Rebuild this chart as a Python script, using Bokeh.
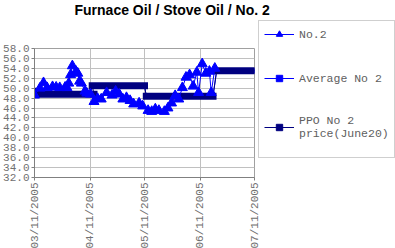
import pandas as pd
from bokeh.plotting import figure
from bokeh.models import (Range1d, FixedTicker, DatetimeTickFormatter, PrintfTickFormatter,
                          ColumnDataSource, Legend, LegendItem, Title)
from bokeh.embed import file_html
from bokeh.resources import INLINE

# ---- data ----
no2_dates = ["2005-03-11", "2005-03-14", "2005-03-16", "2005-03-18", "2005-03-21", "2005-03-23",
             "2005-03-25", "2005-03-28", "2005-03-29", "2005-03-30", "2005-03-31", "2005-04-01",
             "2005-04-03", "2005-04-04", "2005-04-05", "2005-04-06", "2005-04-08", "2005-04-09",
             "2005-04-11", "2005-04-13", "2005-04-15", "2005-04-17", "2005-04-20", "2005-04-23",
             "2005-04-25", "2005-04-27", "2005-04-29", "2005-05-01", "2005-05-03", "2005-05-05",
             "2005-05-08", "2005-05-10", "2005-05-13", "2005-05-15", "2005-05-17", "2005-05-19",
             "2005-05-22", "2005-05-24", "2005-05-26", "2005-05-28", "2005-05-30", "2005-06-01",
             "2005-06-03", "2005-06-05", "2005-06-07", "2005-06-09", "2005-06-10", "2005-06-12",
             "2005-06-14", "2005-06-16", "2005-06-17", "2005-06-19"]
no2_values = [48.6, 50.0, 51.1, 50.1, 50.3, 50.2,
              50.1, 50.2, 50.1, 51.0, 52.7, 54.5,
              53.4, 53.0, 51.4, 51.0, 49.4, 49.0,
              48.8, 47.3, 47.9, 47.8, 49.1, 48.6,
              49.4, 48.8, 47.8, 48.1, 47.5, 46.8,
              47.0, 46.4, 45.5, 45.3, 45.8, 45.5,
              45.3, 46.0, 47.0, 48.5, 47.8, 50.1,
              52.2, 52.7, 50.4, 53.2, 49.1, 54.9,
              53.0, 53.4, 49.1, 54.0]

avg_dates = ["2005-03-11", "2005-04-11", "2005-04-12", "2005-05-11", "2005-05-12", "2005-06-18", "2005-06-20", "2005-07-11"]
avg_values = [48.8, 48.8, 50.5, 50.5, 48.4, 48.4, 53.5, 53.5]

ppo_from = ["2005-03-11", "2005-03-13", "2005-04-12", "2005-05-12", "2005-06-20"]
ppo_to = ["2005-03-11", "2005-04-13", "2005-05-11", "2005-06-18", "2005-07-12"]
ppo_values = [49.4, 48.8, 50.5, 48.4, 53.5]

tick_dates = ["2005-03-11", "2005-04-11", "2005-05-11", "2005-06-11", "2005-07-11"]
y_ticks = [32, 34, 36, 38, 40, 42, 44, 46, 48, 50, 52, 54, 56, 58]

# ---- figure ----
d = lambda s: pd.to_datetime(s)
p = figure(frame_width=220, frame_height=129, x_axis_type="datetime", output_backend="svg",
           toolbar_location=None, title=None,
           x_range=Range1d(d(tick_dates[0]), d(tick_dates[-1])),
           y_range=Range1d(32, 58),
           min_border_left=33, min_border_right=142, min_border_top=47, min_border_bottom=72)
p.background_fill_color = "white"
p.border_fill_color = "white"
p.outline_line_color = "#a0a0a0"

# spacer (nearest the frame) then the real title above it
p.add_layout(Title(text=" ", text_font_size="10px", standoff=15), "above")
p.add_layout(Title(text="Furnace Oil / Stove Oil  / No. 2", text_font="Liberation Sans",
                   text_font_style="bold", text_font_size="14px", text_color="black",
                   align="left", offset=40, vertical_align="top", standoff=2), "above")

tick_ms = [d(t).timestamp() * 1000 for t in tick_dates]
p.xaxis.ticker = FixedTicker(ticks=tick_ms)
fmt = "%m/%d/%Y"
p.xaxis.formatter = DatetimeTickFormatter(days=fmt, months=fmt, years=fmt, hours=fmt,
                                          hourmin=fmt, minutes=fmt, seconds=fmt, milliseconds=fmt,
                                          microseconds=fmt, minsec=fmt)
p.xaxis.major_label_orientation = 3.14159265 / 2
p.yaxis.ticker = FixedTicker(ticks=y_ticks)
p.yaxis.formatter = PrintfTickFormatter(format="%.1f")
for ax in (p.xaxis[0], p.yaxis[0]):
    ax.axis_line_color = "#808080"
    ax.major_tick_line_color = "#808080"
    ax.major_tick_out = 3
    ax.major_tick_in = 0
    ax.minor_tick_line_color = None
    ax.major_label_text_font = "Liberation Mono"
    ax.major_label_text_font_size = "11px"
    ax.major_label_text_color = "#707070"
    ax.major_label_standoff = 2
p.xgrid.grid_line_color = "#c0c0c0"
p.ygrid.grid_line_color = "#c0c0c0"

# Average No 2
p.line([d(x) for x in avg_dates], avg_values, color="#0000ff", line_width=1)
p.scatter([d(x) for x in avg_dates], avg_values, marker="square", size=4, color="#0000ff")

# PPO
conn_x, conn_y = [], []
for i in range(len(ppo_from)):
    conn_x += [d(ppo_from[i]), d(ppo_to[i])]
    conn_y += [ppo_values[i], ppo_values[i]]
p.line(conn_x, conn_y, color="#000080", line_width=1)
p.segment(x0=[d(x) for x in ppo_from], x1=[d(x) for x in ppo_to], y0=ppo_values, y1=ppo_values,
          color="#000080", line_width=7, line_cap="square")

# No.2
p.line([d(x) for x in no2_dates], no2_values, color="#0000ff", line_width=1)
p.scatter([d(x) for x in no2_dates], no2_values, marker="triangle", size=10, color="#0000ff")

# legend proxies (off-range points so only the legend glyph shows)
def proxy():
    return ColumnDataSource(dict(x=[d(tick_dates[0])], y=[0]))
r1a = p.line("x", "y", source=proxy(), color="#0000ff", line_width=1)
r1b = p.scatter("x", "y", source=proxy(), marker="triangle", size=9, color="#0000ff")
r2a = p.line("x", "y", source=proxy(), color="#0000ff", line_width=1)
r2b = p.scatter("x", "y", source=proxy(), marker="square", size=4, color="#0000ff")
r3a = p.line("x", "y", source=proxy(), color="#000080", line_width=1)
r3b = p.scatter("x", "y", source=proxy(), marker="square", size=8, color="#000080")

legend = Legend(items=[LegendItem(label="No.2", renderers=[r1a, r1b]),
                       LegendItem(label="Average No 2", renderers=[r2a, r2b]),
                       LegendItem(label="PPO No 2\nprice(June20)", renderers=[r3a, r3b])],
                location=(4, 19), margin=0, padding=5, spacing=28,
                glyph_width=30, glyph_height=16, label_height=16, label_standoff=5,
                label_text_font="Liberation Mono", label_text_font_size="11.5px",
                label_text_color="#606060", label_text_line_height=1.4,
                border_line_color="#a0a0a0", background_fill_alpha=1.0)
try:
    legend.title = " "
    legend.title_location = "below"
    legend.title_text_font_size = "11px"
    legend.title_standoff = 0
except AttributeError:
    legend.title = None
p.add_layout(legend, "right")

open("out.html", "w").write(file_html(p, INLINE))
